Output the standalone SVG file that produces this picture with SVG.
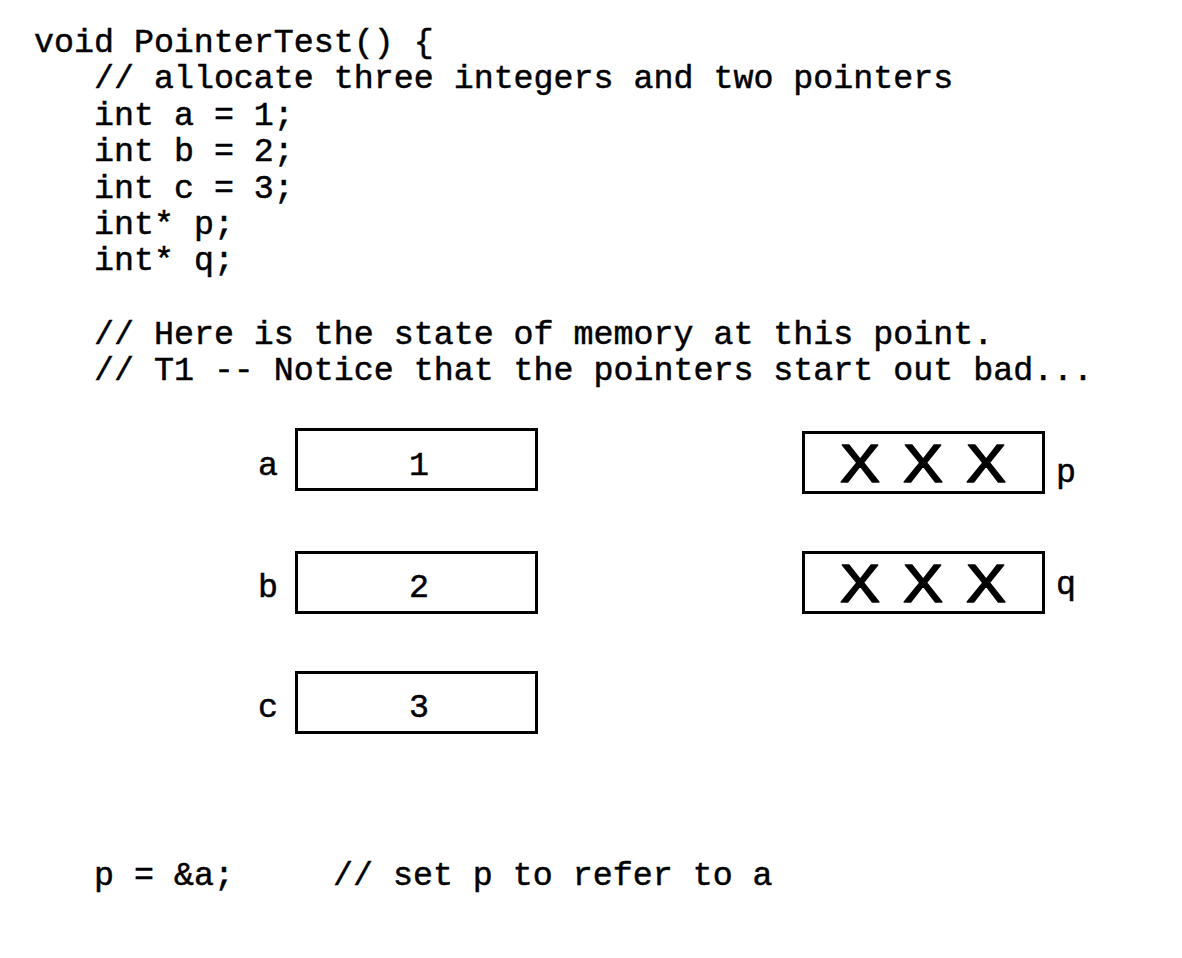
<svg xmlns="http://www.w3.org/2000/svg" width="1182" height="958" viewBox="0 0 1182 958">
<style>
  .code { font-family: "Liberation Mono", "DejaVu Sans Mono", monospace; font-size: 33.3px; fill: #000; stroke: #000; stroke-width: 0.5px; }
  .lbl { font-family: "Liberation Mono", "DejaVu Sans Mono", monospace; font-size: 33.3px; fill: #000; stroke: #000; stroke-width: 0.5px; }
  .val { font-family: "Liberation Mono", "DejaVu Sans Mono", monospace; font-size: 33.3px; fill: #000; stroke: #000; stroke-width: 0.5px; text-anchor: middle; }
  .box { fill: #fff; stroke: #000; stroke-width: 3; }
  .x { font-family: "Liberation Sans", Arial, sans-serif; font-size: 53px; fill: #000; stroke: #000; stroke-width: 1.6px; stroke-linejoin: round; text-anchor: middle; }
</style>
<rect width="1182" height="958" fill="#fff"/>
<g id="code">
  <text class="code" x="34" y="52">void PointerTest() {</text>
  <text class="code" x="94" y="88.4">// allocate three integers and two pointers</text>
  <text class="code" x="94" y="124.8">int a = 1;</text>
  <text class="code" x="94" y="161.2">int b = 2;</text>
  <text class="code" x="94" y="197.6">int c = 3;</text>
  <text class="code" x="94" y="234">int* p;</text>
  <text class="code" x="94" y="270.4">int* q;</text>
  <text class="code" x="94" y="343.5">// Here is the state of memory at this point.</text>
  <text class="code" x="94" y="379.5">// T1 -- Notice that the pointers start out bad...</text>
  <text class="code" x="94" y="885">p = &amp;a;</text>
  <text class="code" x="333" y="885">// set p to refer to a</text>
</g>
<g id="node-a">
  <rect class="box" x="296.5" y="429.5" width="240" height="60"/>
  <text class="lbl" x="258" y="475">a</text>
  <text class="val" x="419" y="475">1</text>
</g>
<g id="node-b">
  <rect class="box" x="296.5" y="552.5" width="240" height="60"/>
  <text class="lbl" x="258" y="597">b</text>
  <text class="val" x="419" y="597">2</text>
</g>
<g id="node-c">
  <rect class="box" x="296.5" y="672.5" width="240" height="60"/>
  <text class="lbl" x="258" y="717">c</text>
  <text class="val" x="419" y="717">3</text>
</g>
<g id="node-p">
  <rect class="box" x="803.5" y="432.5" width="240" height="60"/>
  <text class="x" x="860" y="481.5" textLength="40" lengthAdjust="spacingAndGlyphs">X</text>
  <text class="x" x="923" y="481.5" textLength="40" lengthAdjust="spacingAndGlyphs">X</text>
  <text class="x" x="986" y="481.5" textLength="40" lengthAdjust="spacingAndGlyphs">X</text>
  <text class="lbl" x="1056" y="482">p</text>
</g>
<g id="node-q">
  <rect class="box" x="803.5" y="552.5" width="240" height="60"/>
  <text class="x" x="860" y="601.5" textLength="40" lengthAdjust="spacingAndGlyphs">X</text>
  <text class="x" x="923" y="601.5" textLength="40" lengthAdjust="spacingAndGlyphs">X</text>
  <text class="x" x="986" y="601.5" textLength="40" lengthAdjust="spacingAndGlyphs">X</text>
  <text class="lbl" x="1056" y="594">q</text>
</g>
<g id="connectors"></g>
</svg>
